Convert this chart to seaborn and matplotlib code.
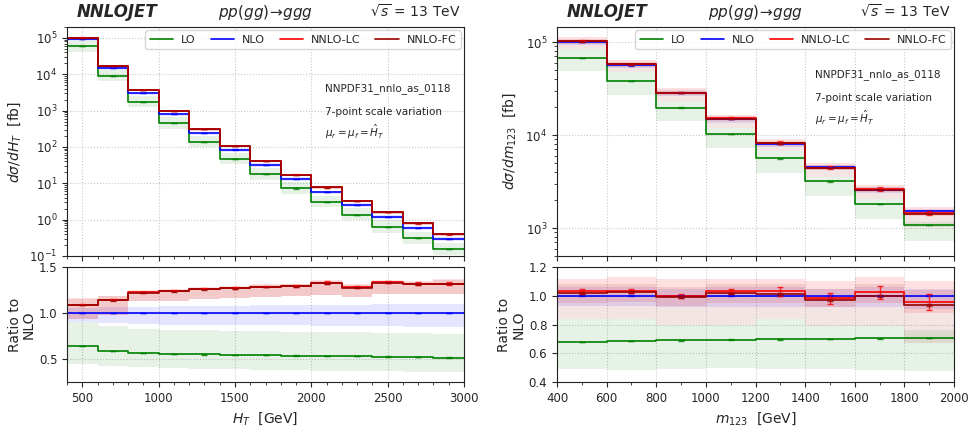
import numpy as np
import pandas as pd
import matplotlib
matplotlib.use("Agg")
import matplotlib.pyplot as plt
from matplotlib.ticker import MultipleLocator
import seaborn as sns

# ---------------- data ----------------
orders = ["LO", "NLO", "NNLO-LC", "NNLO-FC"]
colors = {"LO": "#008000", "NLO": "#0000ff", "NNLO-LC": "#ff0000", "NNLO-FC": "#9a0000"}

# H_T distribution
ht_edges = [400, 600, 800, 1000, 1200, 1400, 1600, 1800, 2000, 2200, 2400, 2600, 2800, 3000]
ht_nlo = [9.4e4, 1.5e4, 3.0e3, 8.0e2, 2.45e2, 85.0, 32.4, 13.4, 5.8, 2.58, 1.21, 0.60, 0.30]
ht_ratio = {
    "LO":      [0.640, 0.585, 0.567, 0.556, 0.549, 0.545, 0.541, 0.538, 0.534, 0.531, 0.527, 0.520, 0.516],
    "NLO":     [1.0] * 13,
    "NNLO-LC": [1.091, 1.142, 1.226, 1.240, 1.262, 1.273, 1.287, 1.295, 1.328, 1.280, 1.335, 1.317, 1.320],
    "NNLO-FC": [1.086, 1.137, 1.221, 1.236, 1.258, 1.269, 1.283, 1.291, 1.323, 1.276, 1.331, 1.313, 1.316],
}
ht_up = {
    "LO":      [0.90, 0.86, 0.83, 0.82, 0.81, 0.805, 0.80, 0.795, 0.79, 0.79, 0.785, 0.78, 0.775],
    "NLO":     [1.05, 1.06, 1.07, 1.075, 1.08, 1.08, 1.085, 1.085, 1.09, 1.09, 1.095, 1.095, 1.10],
    "NNLO-LC": [1.16, 1.19, 1.25, 1.26, 1.28, 1.29, 1.31, 1.32, 1.36, 1.31, 1.36, 1.35, 1.37],
    "NNLO-FC": [1.15, 1.18, 1.24, 1.25, 1.27, 1.28, 1.30, 1.31, 1.35, 1.30, 1.35, 1.34, 1.36],
}
ht_down = {
    "LO":      [0.45, 0.425, 0.41, 0.40, 0.395, 0.39, 0.385, 0.38, 0.375, 0.37, 0.365, 0.36, 0.355],
    "NLO":     [0.90, 0.89, 0.88, 0.875, 0.87, 0.87, 0.865, 0.865, 0.86, 0.86, 0.855, 0.85, 0.845],
    "NNLO-LC": [0.94, 0.98, 1.13, 1.13, 1.15, 1.16, 1.17, 1.18, 1.20, 1.17, 1.21, 1.21, 1.21],
    "NNLO-FC": [0.94, 0.98, 1.13, 1.13, 1.15, 1.16, 1.17, 1.18, 1.20, 1.17, 1.21, 1.21, 1.21],
}
ht_stat = {
    "LO":      [0.002] * 13,
    "NLO":     [0.003] * 13,
    "NNLO-LC": [0.005, 0.005, 0.006, 0.006, 0.006, 0.008, 0.008, 0.008, 0.018, 0.012, 0.010, 0.016, 0.020],
    "NNLO-FC": [0.004] * 13,
}

# m_123 distribution
m_edges = [400, 600, 800, 1000, 1200, 1400, 1600, 1800, 2000]
m_nlo = [1.0e5, 5.6e4, 2.86e4, 1.48e4, 8.03e3, 4.52e3, 2.58e3, 1.52e3]
m_ratio = {
    "LO":      [0.678, 0.685, 0.690, 0.694, 0.697, 0.700, 0.703, 0.706],
    "NLO":     [1.0] * 8,
    "NNLO-LC": [1.030, 1.034, 1.000, 1.030, 1.030, 0.982, 1.025, 0.959],
    "NNLO-FC": [1.018, 1.028, 0.989, 1.016, 1.011, 0.972, 1.000, 0.936],
}
m_up = {
    "LO":      [0.84, 0.84, 0.80, 0.80, 0.84, 0.79, 0.79, 0.76],
    "NLO":     [1.06, 1.06, 1.05, 1.06, 1.06, 1.05, 1.06, 1.05],
    "NNLO-LC": [1.12, 1.13, 1.12, 1.12, 1.12, 1.10, 1.13, 1.10],
    "NNLO-FC": [1.08, 1.08, 1.06, 1.08, 1.08, 1.05, 1.08, 1.04],
}
m_down = {
    "LO":      [0.49, 0.485, 0.49, 0.495, 0.49, 0.49, 0.485, 0.48],
    "NLO":     [0.93, 0.93, 0.92, 0.92, 0.92, 0.92, 0.92, 0.91],
    "NNLO-LC": [0.95, 0.96, 0.93, 0.95, 0.95, 0.92, 0.95, 0.88],
    "NNLO-FC": [0.84, 0.84, 0.80, 0.80, 0.84, 0.79, 0.79, 0.67],
}
m_stat = {
    "LO":      [0.002] * 8,
    "NLO":     [0.005] * 8,
    "NNLO-LC": [0.018, 0.012, 0.015, 0.018, 0.030, 0.040, 0.045, 0.055],
    "NNLO-FC": [0.006] * 8,
}


def long_frame(edges, values):
    rows = []
    for name in orders:
        v = list(values[name]) + [values[name][-1]]
        for x, y in zip(edges, v):
            rows.append({"x": x, "y": y, "order": name})
    return pd.DataFrame(rows)


def draw(ax, rax, edges, nlo, ratio, up, down, stat, xlabel, ylabel, texty, labx):
    edges = np.asarray(edges, float)
    centers = 0.5 * (edges[1:] + edges[:-1])
    nlo = np.asarray(nlo)

    top_vals = {k: np.asarray(ratio[k]) * nlo for k in orders}
    ratio_vals = {k: np.asarray(ratio[k]) for k in orders}

    # bandes de variation d'échelle
    for name in orders:
        c = colors[name]
        a = 0.10 if name != "NNLO-LC" else 0.12
        hi = np.append(up[name], up[name][-1])
        lo = np.append(down[name], down[name][-1])
        ax.fill_between(edges, lo * np.append(nlo, nlo[-1]), hi * np.append(nlo, nlo[-1]),
                        step="post", color=c, alpha=a, lw=0)
        rax.fill_between(edges, lo, hi, step="post", color=c, alpha=a, lw=0)

    sns.lineplot(data=long_frame(edges, top_vals), x="x", y="y", hue="order",
                 hue_order=orders, palette=colors, drawstyle="steps-post",
                 estimator=None, errorbar=None, lw=1.2, ax=ax)
    sns.lineplot(data=long_frame(edges, ratio_vals), x="x", y="y", hue="order",
                 hue_order=orders, palette=colors, drawstyle="steps-post",
                 estimator=None, errorbar=None, lw=1.2, legend=False, ax=rax)

    for name in orders:
        c = colors[name]
        s = np.asarray(stat[name])
        ax.errorbar(centers, top_vals[name], yerr=top_vals[name] * s, fmt="none",
                    ecolor=c, capsize=2, elinewidth=1, alpha=0.7)
        rax.errorbar(centers, ratio_vals[name], yerr=s, fmt="none",
                     ecolor=c, capsize=2.5, elinewidth=1, alpha=0.8)

    sns.move_legend(ax, "upper right", ncol=4, title=None, fontsize=8,
                    handlelength=2.1, handletextpad=0.7, columnspacing=1.35,
                    borderaxespad=0.3)

    ax.set_yscale("log")
    ax.set_xlim(edges[0], edges[-1])
    rax.set_xlim(edges[0], edges[-1])
    ax.set_xlabel("")
    ax.tick_params(labelbottom=False)
    ax.set_ylabel(ylabel, fontsize=10)
    rax.set_ylabel("Ratio to\nNLO", fontsize=10, linespacing=1.0)
    rax.set_xlabel(xlabel, fontsize=10)
    ax.yaxis.set_label_coords(labx[0], 0.5)
    rax.yaxis.set_label_coords(labx[1], 0.5)
    for a in (ax, rax):
        a.grid(True, which="major", ls=":", color="#c8c8c8", lw=0.8)
        a.tick_params(labelsize=8.5)
        for sp in a.spines.values():
            sp.set_color("#222222")

    ax.text(0.65, texty, "NNPDF31_nnlo_as_0118", transform=ax.transAxes, fontsize=7.5)
    ax.text(0.65, texty - 0.103, "7-point scale variation", transform=ax.transAxes, fontsize=7.5)
    ax.text(0.65, texty - 0.2, r"$\mu_r = \mu_f = \hat{H}_T$", transform=ax.transAxes, fontsize=7.5)

    ax.text(0.025, 1.045, "NNLOJET", transform=ax.transAxes, fontsize=12,
            fontweight="bold", fontstyle="italic")
    ax.text(0.50, 1.045, r"$pp(gg)\!\rightarrow\! ggg$", transform=ax.transAxes,
            fontsize=11, ha="center")
    ax.text(0.99, 1.045, r"$\sqrt{s}$ = 13 TeV", transform=ax.transAxes,
            fontsize=10, ha="right")


sns.set_style("ticks")
plt.rcParams["xtick.direction"] = "out"
plt.rcParams["ytick.direction"] = "out"
plt.rcParams["mathtext.fontset"] = "dejavusans"

fig = plt.figure(figsize=(9.71, 4.28), dpi=100)
W, H = 971.0, 428.0
ax1 = fig.add_axes([67 / W, 1 - 256 / H, 397 / W, 229 / H])
rax1 = fig.add_axes([67 / W, 1 - 382 / H, 397 / W, 115 / H])
ax2 = fig.add_axes([557 / W, 1 - 256 / H, 397 / W, 229 / H])
rax2 = fig.add_axes([557 / W, 1 - 382 / H, 397 / W, 115 / H])

draw(ax1, rax1, ht_edges, ht_nlo, ht_ratio, ht_up, ht_down, ht_stat,
     r"$H_T$  [GeV]", r"$d\sigma/dH_T$  [fb]", 0.72, (-0.11, -0.078))
draw(ax2, rax2, m_edges, m_nlo, m_ratio, m_up, m_down, m_stat,
     r"$m_{123}$  [GeV]", r"$d\sigma/dm_{123}$  [fb]", 0.78, (-0.098, -0.08))

ax1.set_ylim(0.1, 2e5)
rax1.set_ylim(0.25, 1.5)
rax1.set_yticks([0.5, 1.0, 1.5])
for a in (ax1, rax1):
    a.xaxis.set_major_locator(MultipleLocator(500))
    a.xaxis.set_minor_locator(MultipleLocator(100))

ax2.set_ylim(5e2, 1.45e5)
rax2.set_ylim(0.4, 1.2)
rax2.set_yticks([0.4, 0.6, 0.8, 1.0, 1.2])
for a in (ax2, rax2):
    a.xaxis.set_major_locator(MultipleLocator(200))
    a.xaxis.set_minor_locator(MultipleLocator(100))

fig.savefig("out.png", dpi=100)
